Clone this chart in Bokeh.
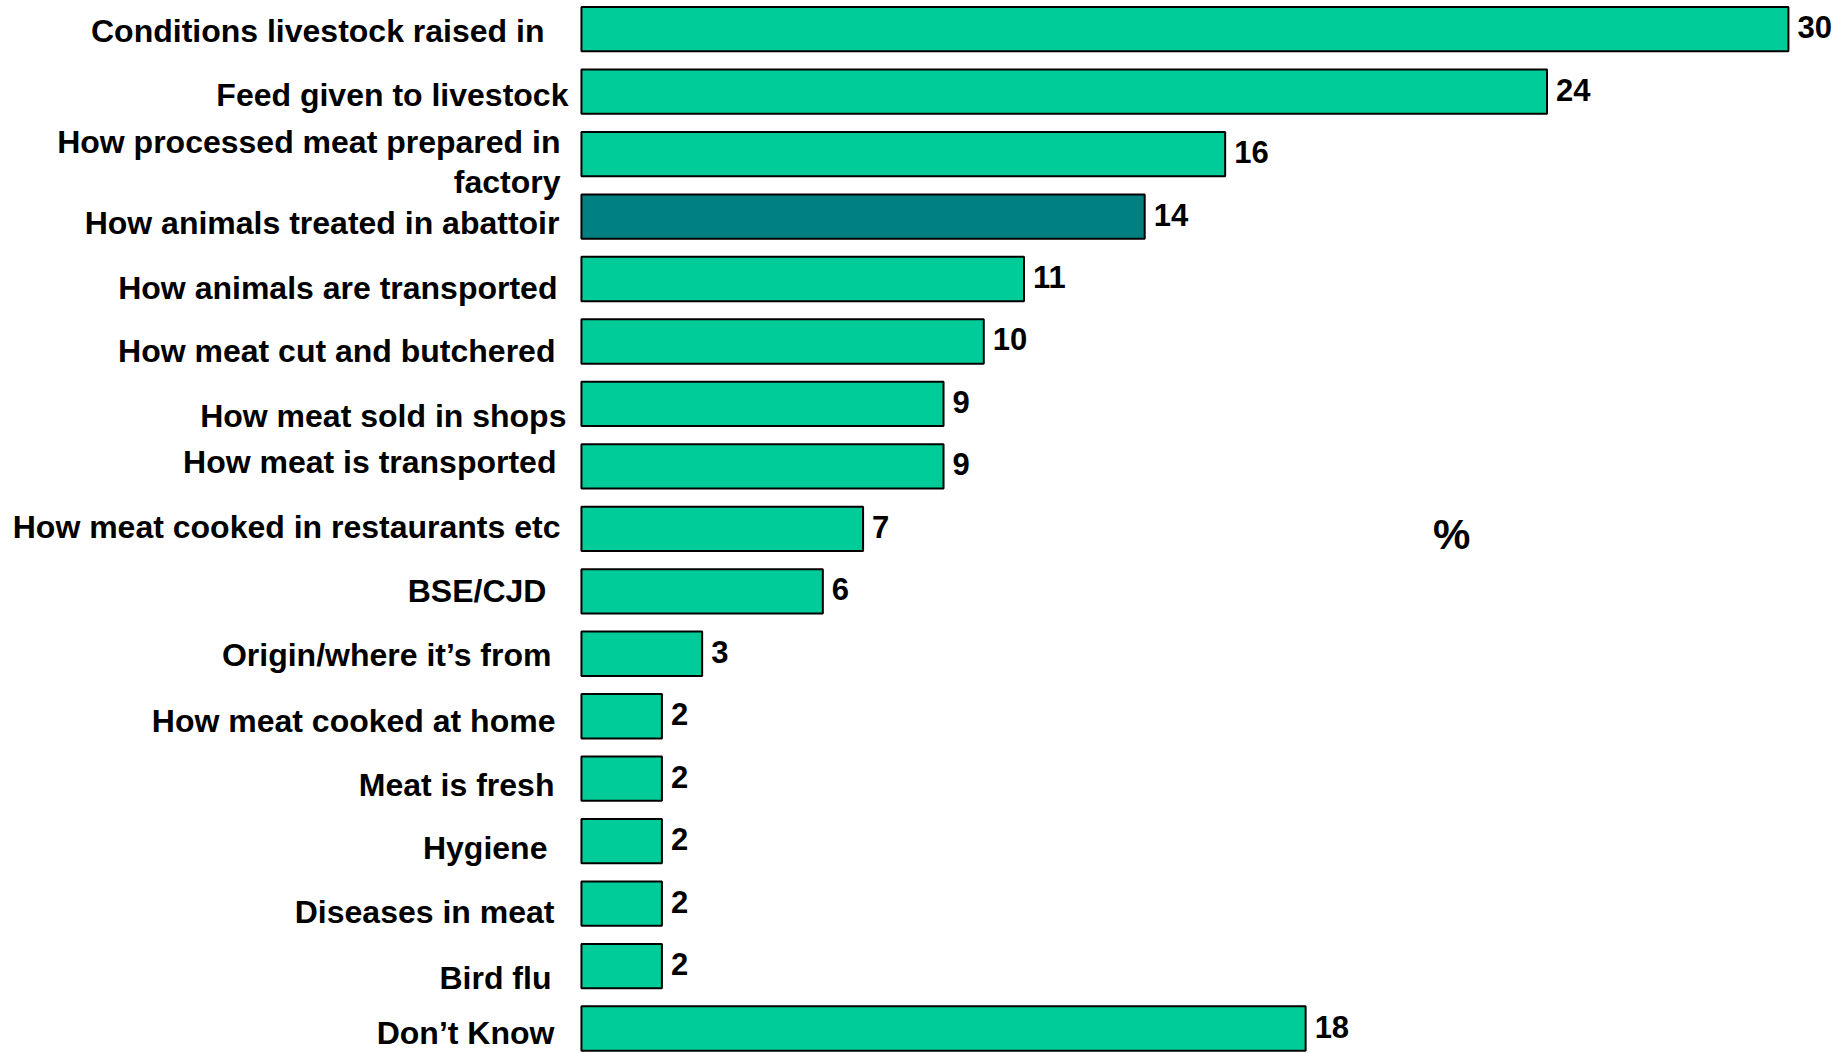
from bokeh.plotting import figure
from bokeh.models import Range1d, ColumnDataSource, Label
from bokeh.core.properties import value
from bokeh.embed import file_html
from bokeh.resources import INLINE

categories = [
    "Conditions livestock raised in",
    "Feed given to livestock",
    "How processed meat prepared in\nfactory",
    "How animals treated in abattoir",
    "How animals are transported",
    "How meat cut and butchered",
    "How meat sold in shops",
    "How meat is transported",
    "How meat cooked in restaurants etc",
    "BSE/CJD",
    "Origin/where it\u2019s from",
    "How meat cooked at home",
    "Meat is fresh",
    "Hygiene",
    "Diseases in meat",
    "Bird flu",
    "Don\u2019t Know",
]
values = [30, 24, 16, 14, 11, 10, 9, 9, 7, 6, 3, 2, 2, 2, 2, 2, 18]
highlight = "How animals treated in abattoir"
unit_label = "%"

# label placement styles (screen px): gap from bar base, vertical shift
label_gap = [37, 13, 21, 22, 24, 26, 15, 25, 21, 35, 30, 26, 27, 34, 27, 30, 27]
label_shift = [2, 3, 8, 6, 9, 10, 12, -4, -2, 0, 1, 5, 6, 7, 8, 12, 4]

BASE = "#00CC99"
HIGH = "#008080"

idx = list(range(len(categories)))
colors = [HIGH if c == highlight else BASE for c in categories]
src = ColumnDataSource(dict(
    y=idx, v=values, lab=[str(v) for v in values], c=colors, cat=categories,
    zero=[0] * len(idx), dx=[-g for g in label_gap], dy=label_shift,
))

p = figure(width=1838, height=1053, output_backend="svg", toolbar_location=None,
           x_range=Range1d(-14.44, 31.245), y_range=Range1d(16.40, -0.4595),
           min_border_left=0, min_border_right=0, min_border_top=0, min_border_bottom=0)
p.outline_line_color = None
p.xgrid.visible = False
p.ygrid.visible = False
p.xaxis.visible = False
p.yaxis.visible = False

p.hbar(y="y", left=0, right="v", height=0.71, fill_color="c", line_color="black",
       line_width=2, source=src)

p.text(x="v", y="y", text="lab", x_offset=9, y_offset=-2, text_align="left",
       text_baseline="middle",
       text_font=value("'Liberation Sans Narrow', 'Noto Sans Condensed', 'Liberation Sans'"),
       text_font_style="bold", text_font_size="31px", text_color="black", source=src)

p.text(x="zero", y="y", text="cat", x_offset="dx", y_offset="dy", text_align="right",
       text_baseline="middle", text_font=value("Liberation Sans"), text_font_style="bold",
       text_font_size="32px", text_line_height=1.13, text_color="black", source=src)

p.add_layout(Label(x=21.63, y=8.09, text=unit_label, text_align="center",
                   text_baseline="middle", text_font="Liberation Sans",
                   text_font_style="bold", text_font_size="42px", text_color="black"))

open("out.html", "w").write(file_html(p, INLINE))
